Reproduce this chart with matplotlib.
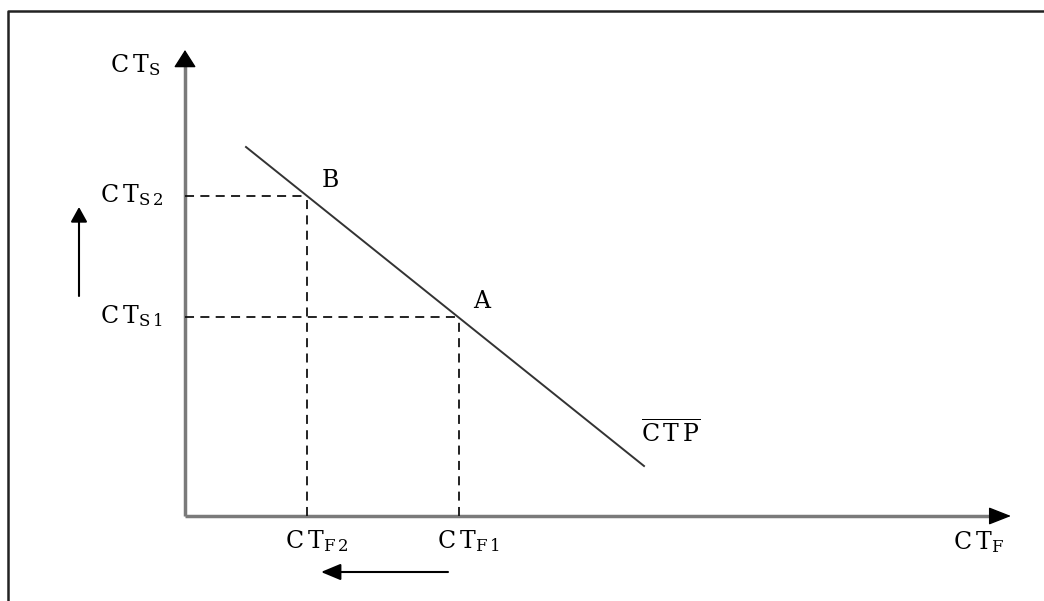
import matplotlib
matplotlib.use("Agg")
import matplotlib.pyplot as plt
from matplotlib.lines import Line2D

plt.rcParams['font.family'] = ['DejaVu Serif', 'DejaVu Sans']
plt.rcParams['mathtext.fontset'] = 'custom'
plt.rcParams['mathtext.rm'] = 'DejaVu Serif'
plt.rcParams['mathtext.it'] = 'DejaVu Serif'
plt.rcParams['mathtext.bf'] = 'DejaVu Serif:bold'

TS = '\u2009'  # thin space to mimic the wide letter spacing of the original

# ---- data (conceptual units, origin at axes crossing) ----
ctf_labels = ['C' + TS + 'T$_{\\mathrm{F\\,2}}$', 'C' + TS + 'T$_{\\mathrm{F\\,1}}$']
ctf_values = [1.22, 2.74]          # CTF2, CTF1
cts_labels = ['C' + TS + 'T$_{\\mathrm{S\\,2}}$', 'C' + TS + 'T$_{\\mathrm{S\\,1}}$']
cts_values = [3.20, 1.99]          # CTS2, CTS1
point_names = ['B', 'A']
ctp_x = [0.61, 4.59]
ctp_y = [3.69, 0.50]
x_axis_end = 8.26
y_axis_end = 4.66

fig = plt.figure(figsize=(10.44, 6.01), dpi=100)
ax = fig.add_axes([0, 0, 1, 1])
ax.set_xlim(-1.85, 8.59)
ax.set_ylim(-0.85, 5.16)
ax.axis('off')

# figure frame (top and left edges visible)
fig.add_artist(Line2D([8/1044, 8/1044, 1.01], [-0.01, 1 - 11/601, 1 - 11/601],
                      transform=fig.transFigure, color='#222222', lw=1.8))

axis_gray = '#7a7a7a'
# axes (gray shafts + black heads)
ax.plot([0, x_axis_end - 0.18], [0, 0], color=axis_gray, lw=2.5, solid_capstyle='butt', zorder=2)
ax.plot([0, 0], [0, y_axis_end - 0.14], color=axis_gray, lw=2.5, solid_capstyle='butt', zorder=2)
ax.annotate('', xy=(x_axis_end, 0), xytext=(x_axis_end - 0.19, 0),
            arrowprops=dict(arrowstyle='-|>,head_length=14,head_width=5.5', mutation_scale=1,
                            color='black', lw=1, shrinkA=0, shrinkB=0))
ax.annotate('', xy=(0, y_axis_end), xytext=(0, y_axis_end - 0.15),
            arrowprops=dict(arrowstyle='-|>,head_length=11,head_width=7', mutation_scale=1,
                            color='black', lw=1, shrinkA=0, shrinkB=0))

# CTP line
ax.plot(ctp_x, ctp_y, color='#333333', lw=1.4, zorder=3)

# dashed guides
dash = (0, (5, 3.5))
for xv, yv in zip(ctf_values, cts_values):
    ax.plot([0, xv], [yv, yv], color='#111111', lw=1.3, linestyle=dash, zorder=2)
    ax.plot([xv, xv], [0, yv], color='#111111', lw=1.3, linestyle=dash, zorder=2)

fs = 17
sub_kw = dict(fontsize=fs, ha='left', va='baseline')
# axis labels
ax.text(-0.75, 4.44, 'C' + TS + 'T$_{\\mathrm{S}}$', **sub_kw)
ax.text(7.68, -0.33, 'C' + TS + 'T$_{\\mathrm{F}}$', **sub_kw)

# y tick labels
for lab, yv in zip(cts_labels, cts_values):
    ax.text(-0.85, yv - 0.06, lab, **sub_kw)
# x tick labels
for lab, xv in zip(ctf_labels, ctf_values):
    ax.text(xv - 0.22, -0.32, lab, **sub_kw)

# point names
for name, xv, yv in zip(point_names, ctf_values, cts_values):
    ax.text(xv + 0.23, yv + 0.15, name, fontsize=fs, ha='center', va='center')

# CTP label with overline
ax.text(4.56, 0.74, r'$\overline{\mathrm{C\,T\,P}}$', **sub_kw)

# direction arrows
ax.annotate('', xy=(-1.06, 3.09), xytext=(-1.06, 2.20),
            arrowprops=dict(arrowstyle='-|>,head_length=9,head_width=5', mutation_scale=1,
                            color='black', lw=1.5, shrinkA=0, shrinkB=0))
ax.annotate('', xy=(1.36, -0.56), xytext=(2.63, -0.56),
            arrowprops=dict(arrowstyle='-|>,head_length=12,head_width=5', mutation_scale=1,
                            color='black', lw=1.5, shrinkA=0, shrinkB=0))

fig.savefig('out.png', dpi=100)
